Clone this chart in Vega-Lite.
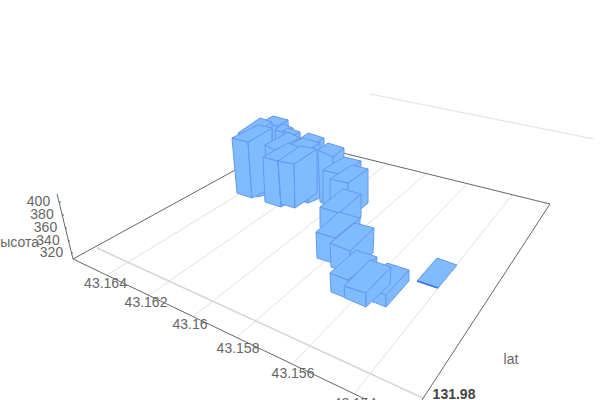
{"$schema":"https://vega.github.io/schema/vega-lite/v6.json","width":600,"height":400,"padding":0,"autosize":{"type":"none"},"background":"white","config":{"view":{"stroke":null}},
"datasets":{
"lines":[
{"k":"grid","id":"g1","n":0,"sx":107,"sy":275},{"k":"grid","id":"g1","n":1,"sx":318,"sy":146},
{"k":"grid","id":"g2","n":0,"sx":148,"sy":296},{"k":"grid","id":"g2","n":1,"sx":352,"sy":154},
{"k":"grid","id":"g3","n":0,"sx":194,"sy":316},{"k":"grid","id":"g3","n":1,"sx":388,"sy":163},
{"k":"grid","id":"g4","n":0,"sx":237,"sy":337},{"k":"grid","id":"g4","n":1,"sx":427,"sy":173},
{"k":"grid","id":"g5","n":0,"sx":293,"sy":363},{"k":"grid","id":"g5","n":1,"sx":467,"sy":184},
{"k":"grid","id":"g6","n":0,"sx":355,"sy":393},{"k":"grid","id":"g6","n":1,"sx":512,"sy":195},
{"k":"grid","id":"top","n":0,"sx":370,"sy":94},{"k":"grid","id":"top","n":1,"sx":594,"sy":139},
{"k":"thick","id":"t1","n":0,"sx":97,"sy":248},{"k":"thick","id":"t1","n":1,"sx":423,"sy":398},
{"k":"edge","id":"e1","n":0,"sx":57,"sy":194},{"k":"edge","id":"e1","n":1,"sx":73,"sy":259},
{"k":"edge","id":"e2","n":0,"sx":73,"sy":259},{"k":"edge","id":"e2","n":1,"sx":290,"sy":140},
{"k":"edge","id":"e3","n":0,"sx":290,"sy":140},{"k":"edge","id":"e3","n":1,"sx":550,"sy":204},
{"k":"edge","id":"e4","n":0,"sx":550,"sy":204},{"k":"edge","id":"e4","n":1,"sx":422,"sy":400},
{"k":"edge","id":"e5","n":0,"sx":73,"sy":259},{"k":"edge","id":"e5","n":1,"sx":367,"sy":400},
{"k":"edge","id":"z1","n":0,"sx":59,"sy":202},{"k":"edge","id":"z1","n":1,"sx":61,"sy":202},
{"k":"edge","id":"z2","n":0,"sx":62,"sy":215},{"k":"edge","id":"z2","n":1,"sx":64,"sy":215},
{"k":"edge","id":"z3","n":0,"sx":65,"sy":228},{"k":"edge","id":"z3","n":1,"sx":67,"sy":228},
{"k":"edge","id":"z4","n":0,"sx":68,"sy":241},{"k":"edge","id":"z4","n":1,"sx":70,"sy":241},
{"k":"edge","id":"z5","n":0,"sx":71,"sy":253},{"k":"edge","id":"z5","n":1,"sx":73,"sy":253},
{"k":"low","id":"l1","n":0,"sx":417,"sy":281},{"k":"low","id":"l1","n":1,"sx":438,"sy":288}
],
"labels":[
{"k":"tick","label":"400","sx":38.5,"sy":202},{"k":"tick","label":"380","sx":42,"sy":215},{"k":"tick","label":"360","sx":45.5,"sy":228},{"k":"tick","label":"340","sx":48,"sy":241},{"k":"tick","label":"320","sx":51.5,"sy":253},
{"k":"tick","label":"43.164","sx":105.5,"sy":284},{"k":"tick","label":"43.162","sx":146,"sy":303},{"k":"tick","label":"43.16","sx":190,"sy":325},{"k":"tick","label":"43.158","sx":238,"sy":349},{"k":"tick","label":"43.156","sx":293,"sy":374},{"k":"tick","label":"43.154","sx":355,"sy":404},
{"k":"tick","label":"lat","sx":511,"sy":360},
{"k":"bold","label":"131.98","sx":454,"sy":395},
{"k":"name","label":"высота","sx":39,"sy":243}
],
"faces":[
{"f":"1L","n":0,"sx":262,"sy":122},{"f":"1L","n":1,"sx":277,"sy":126},{"f":"1L","n":2,"sx":280,"sy":190},{"f":"1L","n":3,"sx":265,"sy":190},{"f":"1L","n":4,"sx":262,"sy":122},
{"f":"1R","n":0,"sx":277,"sy":126},{"f":"1R","n":1,"sx":288,"sy":120},{"f":"1R","n":2,"sx":291,"sy":185},{"f":"1R","n":3,"sx":280,"sy":190},{"f":"1R","n":4,"sx":277,"sy":126},
{"f":"1T","n":0,"sx":262,"sy":122},{"f":"1T","n":1,"sx":277,"sy":126},{"f":"1T","n":2,"sx":288,"sy":120},{"f":"1T","n":3,"sx":273,"sy":116},{"f":"1T","n":4,"sx":262,"sy":122},
{"f":"2L","n":0,"sx":238,"sy":133},{"f":"2L","n":1,"sx":250,"sy":137},{"f":"2L","n":2,"sx":258,"sy":197},{"f":"2L","n":3,"sx":243,"sy":190},{"f":"2L","n":4,"sx":238,"sy":133},
{"f":"2R","n":0,"sx":250,"sy":137},{"f":"2R","n":1,"sx":272,"sy":122},{"f":"2R","n":2,"sx":272,"sy":193},{"f":"2R","n":3,"sx":258,"sy":197},{"f":"2R","n":4,"sx":250,"sy":137},
{"f":"2T","n":0,"sx":238,"sy":133},{"f":"2T","n":1,"sx":250,"sy":137},{"f":"2T","n":2,"sx":272,"sy":122},{"f":"2T","n":3,"sx":260,"sy":118},{"f":"2T","n":4,"sx":238,"sy":133},
{"f":"3L","n":0,"sx":275,"sy":130},{"f":"3L","n":1,"sx":288,"sy":134},{"f":"3L","n":2,"sx":290,"sy":195},{"f":"3L","n":3,"sx":277,"sy":192},{"f":"3L","n":4,"sx":275,"sy":130},
{"f":"3R","n":0,"sx":288,"sy":134},{"f":"3R","n":1,"sx":293,"sy":128},{"f":"3R","n":2,"sx":295,"sy":190},{"f":"3R","n":3,"sx":290,"sy":195},{"f":"3R","n":4,"sx":288,"sy":134},
{"f":"3T","n":0,"sx":275,"sy":130},{"f":"3T","n":1,"sx":288,"sy":134},{"f":"3T","n":2,"sx":293,"sy":128},{"f":"3T","n":3,"sx":283,"sy":124},{"f":"3T","n":4,"sx":275,"sy":130},
{"f":"4L","n":0,"sx":283,"sy":131},{"f":"4L","n":1,"sx":295,"sy":135},{"f":"4L","n":2,"sx":297,"sy":198},{"f":"4L","n":3,"sx":285,"sy":195},{"f":"4L","n":4,"sx":283,"sy":131},
{"f":"4R","n":0,"sx":295,"sy":135},{"f":"4R","n":1,"sx":300,"sy":132},{"f":"4R","n":2,"sx":302,"sy":195},{"f":"4R","n":3,"sx":297,"sy":198},{"f":"4R","n":4,"sx":295,"sy":135},
{"f":"4T","n":0,"sx":283,"sy":131},{"f":"4T","n":1,"sx":295,"sy":135},{"f":"4T","n":2,"sx":300,"sy":132},{"f":"4T","n":3,"sx":288,"sy":128},{"f":"4T","n":4,"sx":283,"sy":131},
{"f":"5L","n":0,"sx":232,"sy":138},{"f":"5L","n":1,"sx":248,"sy":142},{"f":"5L","n":2,"sx":252,"sy":198},{"f":"5L","n":3,"sx":237,"sy":193},{"f":"5L","n":4,"sx":232,"sy":138},
{"f":"5R","n":0,"sx":248,"sy":142},{"f":"5R","n":1,"sx":272,"sy":128},{"f":"5R","n":2,"sx":272,"sy":188},{"f":"5R","n":3,"sx":252,"sy":198},{"f":"5R","n":4,"sx":248,"sy":142},
{"f":"5T","n":0,"sx":232,"sy":138},{"f":"5T","n":1,"sx":248,"sy":142},{"f":"5T","n":2,"sx":272,"sy":128},{"f":"5T","n":3,"sx":258,"sy":125},{"f":"5T","n":4,"sx":232,"sy":138},
{"f":"6L","n":0,"sx":298,"sy":140},{"f":"6L","n":1,"sx":313,"sy":145},{"f":"6L","n":2,"sx":313,"sy":200},{"f":"6L","n":3,"sx":298,"sy":195},{"f":"6L","n":4,"sx":298,"sy":140},
{"f":"6R","n":0,"sx":313,"sy":145},{"f":"6R","n":1,"sx":324,"sy":138},{"f":"6R","n":2,"sx":324,"sy":193},{"f":"6R","n":3,"sx":313,"sy":200},{"f":"6R","n":4,"sx":313,"sy":145},
{"f":"6T","n":0,"sx":298,"sy":140},{"f":"6T","n":1,"sx":313,"sy":145},{"f":"6T","n":2,"sx":324,"sy":138},{"f":"6T","n":3,"sx":308,"sy":133},{"f":"6T","n":4,"sx":298,"sy":140},
{"f":"7L","n":0,"sx":265,"sy":145},{"f":"7L","n":1,"sx":275,"sy":150},{"f":"7L","n":2,"sx":277,"sy":205},{"f":"7L","n":3,"sx":268,"sy":200},{"f":"7L","n":4,"sx":265,"sy":145},
{"f":"7R","n":0,"sx":275,"sy":150},{"f":"7R","n":1,"sx":300,"sy":138},{"f":"7R","n":2,"sx":300,"sy":195},{"f":"7R","n":3,"sx":277,"sy":205},{"f":"7R","n":4,"sx":275,"sy":150},
{"f":"7T","n":0,"sx":265,"sy":145},{"f":"7T","n":1,"sx":275,"sy":150},{"f":"7T","n":2,"sx":300,"sy":138},{"f":"7T","n":3,"sx":288,"sy":132},{"f":"7T","n":4,"sx":265,"sy":145},
{"f":"8L","n":0,"sx":290,"sy":145},{"f":"8L","n":1,"sx":308,"sy":150},{"f":"8L","n":2,"sx":308,"sy":203},{"f":"8L","n":3,"sx":291,"sy":198},{"f":"8L","n":4,"sx":290,"sy":145},
{"f":"8R","n":0,"sx":308,"sy":150},{"f":"8R","n":1,"sx":320,"sy":143},{"f":"8R","n":2,"sx":320,"sy":198},{"f":"8R","n":3,"sx":308,"sy":203},{"f":"8R","n":4,"sx":308,"sy":150},
{"f":"8T","n":0,"sx":290,"sy":145},{"f":"8T","n":1,"sx":308,"sy":150},{"f":"8T","n":2,"sx":320,"sy":143},{"f":"8T","n":3,"sx":303,"sy":138},{"f":"8T","n":4,"sx":290,"sy":145},
{"f":"9L","n":0,"sx":318,"sy":150},{"f":"9L","n":1,"sx":333,"sy":157},{"f":"9L","n":2,"sx":333,"sy":205},{"f":"9L","n":3,"sx":320,"sy":202},{"f":"9L","n":4,"sx":318,"sy":150},
{"f":"9R","n":0,"sx":333,"sy":157},{"f":"9R","n":1,"sx":344,"sy":148},{"f":"9R","n":2,"sx":343,"sy":195},{"f":"9R","n":3,"sx":333,"sy":205},{"f":"9R","n":4,"sx":333,"sy":157},
{"f":"9T","n":0,"sx":318,"sy":150},{"f":"9T","n":1,"sx":333,"sy":157},{"f":"9T","n":2,"sx":344,"sy":148},{"f":"9T","n":3,"sx":328,"sy":143},{"f":"9T","n":4,"sx":318,"sy":150},
{"f":"aL","n":0,"sx":263,"sy":157},{"f":"aL","n":1,"sx":278,"sy":161},{"f":"aL","n":2,"sx":281,"sy":207},{"f":"aL","n":3,"sx":265,"sy":202},{"f":"aL","n":4,"sx":263,"sy":157},
{"f":"aR","n":0,"sx":278,"sy":161},{"f":"aR","n":1,"sx":300,"sy":147},{"f":"aR","n":2,"sx":302,"sy":195},{"f":"aR","n":3,"sx":281,"sy":207},{"f":"aR","n":4,"sx":278,"sy":161},
{"f":"aT","n":0,"sx":263,"sy":157},{"f":"aT","n":1,"sx":278,"sy":161},{"f":"aT","n":2,"sx":300,"sy":147},{"f":"aT","n":3,"sx":288,"sy":143},{"f":"aT","n":4,"sx":263,"sy":157},
{"f":"bL","n":0,"sx":278,"sy":161},{"f":"bL","n":1,"sx":294,"sy":164},{"f":"bL","n":2,"sx":295,"sy":208},{"f":"bL","n":3,"sx":281,"sy":204},{"f":"bL","n":4,"sx":278,"sy":161},
{"f":"bR","n":0,"sx":294,"sy":164},{"f":"bR","n":1,"sx":317,"sy":149},{"f":"bR","n":2,"sx":317,"sy":193},{"f":"bR","n":3,"sx":295,"sy":208},{"f":"bR","n":4,"sx":294,"sy":164},
{"f":"bT","n":0,"sx":278,"sy":161},{"f":"bT","n":1,"sx":294,"sy":164},{"f":"bT","n":2,"sx":317,"sy":149},{"f":"bT","n":3,"sx":300,"sy":146},{"f":"bT","n":4,"sx":278,"sy":161},
{"f":"cL","n":0,"sx":323,"sy":170},{"f":"cL","n":1,"sx":342,"sy":175},{"f":"cL","n":2,"sx":342,"sy":210},{"f":"cL","n":3,"sx":323,"sy":205},{"f":"cL","n":4,"sx":323,"sy":170},
{"f":"cR","n":0,"sx":342,"sy":175},{"f":"cR","n":1,"sx":361,"sy":161},{"f":"cR","n":2,"sx":360,"sy":195},{"f":"cR","n":3,"sx":342,"sy":210},{"f":"cR","n":4,"sx":342,"sy":175},
{"f":"cT","n":0,"sx":323,"sy":170},{"f":"cT","n":1,"sx":342,"sy":175},{"f":"cT","n":2,"sx":361,"sy":161},{"f":"cT","n":3,"sx":344,"sy":157},{"f":"cT","n":4,"sx":323,"sy":170},
{"f":"dL","n":0,"sx":330,"sy":179},{"f":"dL","n":1,"sx":348,"sy":183},{"f":"dL","n":2,"sx":348,"sy":220},{"f":"dL","n":3,"sx":330,"sy":215},{"f":"dL","n":4,"sx":330,"sy":179},
{"f":"dR","n":0,"sx":348,"sy":183},{"f":"dR","n":1,"sx":368,"sy":169},{"f":"dR","n":2,"sx":368,"sy":203},{"f":"dR","n":3,"sx":348,"sy":220},{"f":"dR","n":4,"sx":348,"sy":183},
{"f":"dT","n":0,"sx":330,"sy":179},{"f":"dT","n":1,"sx":348,"sy":183},{"f":"dT","n":2,"sx":368,"sy":169},{"f":"dT","n":3,"sx":352,"sy":165},{"f":"dT","n":4,"sx":330,"sy":179},
{"f":"eL","n":0,"sx":320,"sy":207},{"f":"eL","n":1,"sx":339,"sy":213},{"f":"eL","n":2,"sx":339,"sy":233},{"f":"eL","n":3,"sx":320,"sy":227},{"f":"eL","n":4,"sx":320,"sy":207},
{"f":"eR","n":0,"sx":339,"sy":213},{"f":"eR","n":1,"sx":361,"sy":194},{"f":"eR","n":2,"sx":361,"sy":218},{"f":"eR","n":3,"sx":339,"sy":233},{"f":"eR","n":4,"sx":339,"sy":213},
{"f":"eT","n":0,"sx":320,"sy":207},{"f":"eT","n":1,"sx":339,"sy":213},{"f":"eT","n":2,"sx":361,"sy":194},{"f":"eT","n":3,"sx":343,"sy":189},{"f":"eT","n":4,"sx":320,"sy":207},
{"f":"fL","n":0,"sx":316,"sy":232},{"f":"fL","n":1,"sx":335,"sy":238},{"f":"fL","n":2,"sx":336,"sy":264},{"f":"fL","n":3,"sx":317,"sy":258},{"f":"fL","n":4,"sx":316,"sy":232},
{"f":"fR","n":0,"sx":335,"sy":238},{"f":"fR","n":1,"sx":360,"sy":218},{"f":"fR","n":2,"sx":360,"sy":245},{"f":"fR","n":3,"sx":336,"sy":264},{"f":"fR","n":4,"sx":335,"sy":238},
{"f":"fT","n":0,"sx":316,"sy":232},{"f":"fT","n":1,"sx":335,"sy":238},{"f":"fT","n":2,"sx":360,"sy":218},{"f":"fT","n":3,"sx":339,"sy":212},{"f":"fT","n":4,"sx":316,"sy":232},
{"f":"gL","n":0,"sx":330,"sy":243},{"f":"gL","n":1,"sx":350,"sy":251},{"f":"gL","n":2,"sx":351,"sy":274},{"f":"gL","n":3,"sx":331,"sy":267},{"f":"gL","n":4,"sx":330,"sy":243},
{"f":"gR","n":0,"sx":350,"sy":251},{"f":"gR","n":1,"sx":374,"sy":228},{"f":"gR","n":2,"sx":373,"sy":253},{"f":"gR","n":3,"sx":351,"sy":274},{"f":"gR","n":4,"sx":350,"sy":251},
{"f":"gT","n":0,"sx":330,"sy":243},{"f":"gT","n":1,"sx":350,"sy":251},{"f":"gT","n":2,"sx":374,"sy":228},{"f":"gT","n":3,"sx":355,"sy":223},{"f":"gT","n":4,"sx":330,"sy":243},
{"f":"hL","n":0,"sx":365,"sy":288},{"f":"hL","n":1,"sx":386,"sy":295},{"f":"hL","n":2,"sx":386,"sy":307},{"f":"hL","n":3,"sx":366,"sy":299},{"f":"hL","n":4,"sx":365,"sy":288},
{"f":"hR","n":0,"sx":386,"sy":295},{"f":"hR","n":1,"sx":409,"sy":270},{"f":"hR","n":2,"sx":409,"sy":281},{"f":"hR","n":3,"sx":386,"sy":307},{"f":"hR","n":4,"sx":386,"sy":295},
{"f":"hT","n":0,"sx":365,"sy":288},{"f":"hT","n":1,"sx":386,"sy":295},{"f":"hT","n":2,"sx":409,"sy":270},{"f":"hT","n":3,"sx":387,"sy":263},{"f":"hT","n":4,"sx":365,"sy":288},
{"f":"iL","n":0,"sx":330,"sy":273},{"f":"iL","n":1,"sx":348,"sy":280},{"f":"iL","n":2,"sx":349,"sy":299},{"f":"iL","n":3,"sx":331,"sy":292},{"f":"iL","n":4,"sx":330,"sy":273},
{"f":"iR","n":0,"sx":348,"sy":280},{"f":"iR","n":1,"sx":377,"sy":257},{"f":"iR","n":2,"sx":376,"sy":275},{"f":"iR","n":3,"sx":349,"sy":299},{"f":"iR","n":4,"sx":348,"sy":280},
{"f":"iT","n":0,"sx":330,"sy":273},{"f":"iT","n":1,"sx":348,"sy":280},{"f":"iT","n":2,"sx":377,"sy":257},{"f":"iT","n":3,"sx":356,"sy":250},{"f":"iT","n":4,"sx":330,"sy":273},
{"f":"jL","n":0,"sx":344,"sy":286},{"f":"jL","n":1,"sx":366,"sy":293},{"f":"jL","n":2,"sx":366,"sy":307},{"f":"jL","n":3,"sx":345,"sy":298},{"f":"jL","n":4,"sx":344,"sy":286},
{"f":"jR","n":0,"sx":366,"sy":293},{"f":"jR","n":1,"sx":391,"sy":267},{"f":"jR","n":2,"sx":390,"sy":284},{"f":"jR","n":3,"sx":366,"sy":307},{"f":"jR","n":4,"sx":366,"sy":293},
{"f":"jT","n":0,"sx":344,"sy":286},{"f":"jT","n":1,"sx":366,"sy":293},{"f":"jT","n":2,"sx":391,"sy":267},{"f":"jT","n":3,"sx":370,"sy":260},{"f":"jT","n":4,"sx":344,"sy":286},
{"f":"kT","n":0,"sx":417,"sy":281},{"f":"kT","n":1,"sx":438,"sy":288},{"f":"kT","n":2,"sx":457,"sy":265},{"f":"kT","n":3,"sx":437,"sy":258},{"f":"kT","n":4,"sx":417,"sy":281}
]},
"encoding":{"x":{"field":"sx","type":"quantitative","scale":{"domain":[0,600]},"axis":null},"y":{"field":"sy","type":"quantitative","scale":{"domain":[400,0]},"axis":null}},
"layer":[
{"data":{"name":"lines"},"transform":[{"filter":"datum.k=='grid'"}],"mark":{"type":"line","stroke":"#e0e0e0","strokeWidth":1},"encoding":{"detail":{"field":"id"},"order":{"field":"n"}}},
{"data":{"name":"lines"},"transform":[{"filter":"datum.k=='thick'"}],"mark":{"type":"line","stroke":"#d6d6d6","strokeWidth":1.6},"encoding":{"detail":{"field":"id"},"order":{"field":"n"}}},
{"data":{"name":"lines"},"transform":[{"filter":"datum.k=='edge'"}],"mark":{"type":"line","stroke":"#666666","strokeWidth":1},"encoding":{"detail":{"field":"id"},"order":{"field":"n"}}},
{"data":{"name":"faces"},"mark":{"type":"line","fill":"#80bbff","stroke":"#6398ee","strokeWidth":1},"encoding":{"detail":{"field":"f"},"order":{"field":"n"}}},
{"data":{"name":"lines"},"transform":[{"filter":"datum.k=='low'"}],"mark":{"type":"line","stroke":"#3f6fe0","strokeWidth":1.6},"encoding":{"detail":{"field":"id"},"order":{"field":"n"}}},
{"data":{"name":"labels"},"transform":[{"filter":"datum.k=='tick'"}],"mark":{"type":"text","font":"Liberation Sans","fontSize":14,"fill":"#666666","align":"center","baseline":"middle"},"encoding":{"text":{"field":"label"}}},
{"data":{"name":"labels"},"transform":[{"filter":"datum.k=='bold'"}],"mark":{"type":"text","font":"Liberation Sans","fontSize":14,"fontWeight":"bold","fill":"#444444","align":"center","baseline":"middle"},"encoding":{"text":{"field":"label"}}},
{"data":{"name":"labels"},"transform":[{"filter":"datum.k=='name'"}],"mark":{"type":"text","font":"Liberation Sans","fontSize":14,"fill":"#666666","align":"right","baseline":"middle"},"encoding":{"text":{"field":"label"}}}
]}
